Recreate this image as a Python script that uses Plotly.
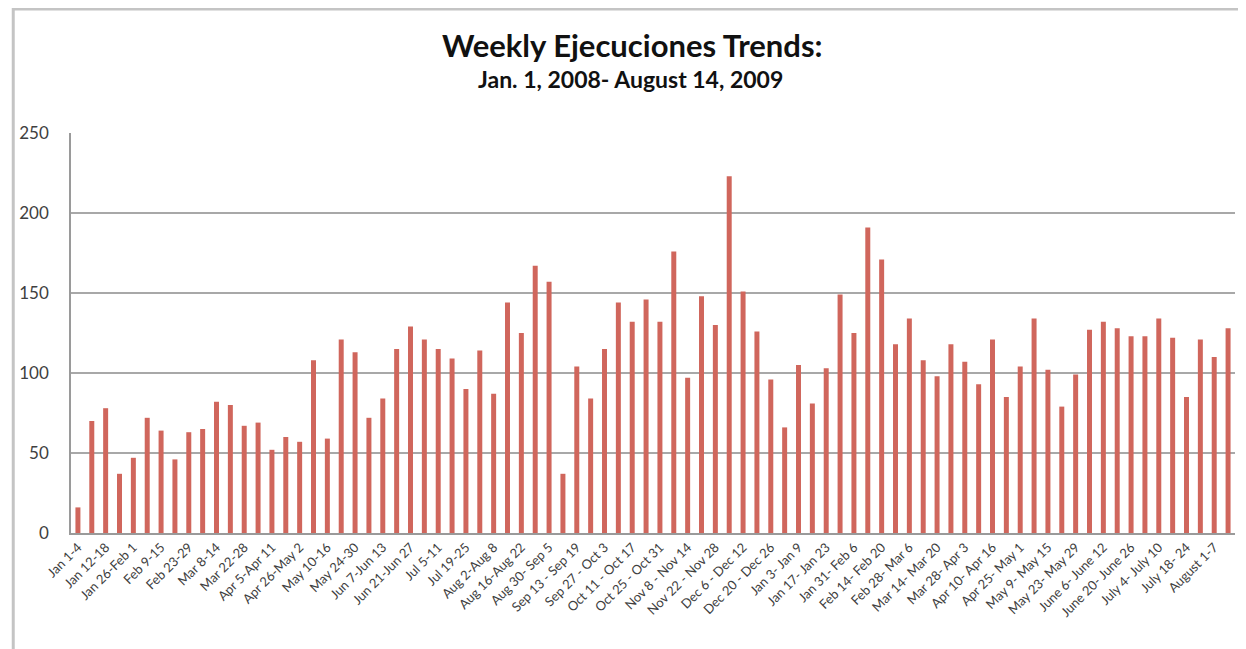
import plotly.graph_objects as go

weeks = [
    "Jan 1-4", "Jan 5-11", "Jan 12-18", "Jan 19-25", "Jan 26-Feb 1", "Feb 2-8",
    "Feb 9-15", "Feb 16-22", "Feb 23-29", "Mar 1-7", "Mar 8-14", "Mar 15-21",
    "Mar 22-28", "Mar 29-Apr 4", "Apr 5-Apr 11", "Apr 12-25", "Apr 26-May 2", "May 3-9",
    "May 10-16", "May 17-23", "May 24-30", "May 31-Jun 6", "Jun 7-Jun 13", "Jun 14-Jun 20",
    "Jun 21-Jun 27", "Jun 28-Jul 4", "Jul 5-11", "Jul 12-18", "Jul 19-25", "Jul 26-Aug 1",
    "Aug 2-Aug 8", "Aug 9-Aug 15", "Aug 16-Aug 22", "Aug 23-Aug 29", "Aug 30- Sep 5", "Sep 6 - Sep 12",
    "Sep 13 - Sep 19", "Sep 20 - Sep 26", "Sep 27 - Oct 3", "Oct 4 - Oct 10", "Oct 11 - Oct 17", "Oct 18 - Oct 24",
    "Oct 25 - Oct 31", "Nov 1 - Nov 7", "Nov 8 - Nov 14", "Nov 15 - Nov 21", "Nov 22 - Nov 28", "Nov 29 - Dec 5",
    "Dec 6 - Dec 12", "Dec 13 - Dec 19", "Dec 20 - Dec 26", "Dec 27 - Jan 2", "Jan 3- Jan 9", "Jan 10- Jan 16",
    "Jan 17- Jan 23", "Jan 24- Jan 30", "Jan 31- Feb 6", "Feb 7- Feb 13", "Feb 14- Feb 20", "Feb 21- Feb 27",
    "Feb 28- Mar 6", "Mar 7- Mar 13", "Mar 14- Mar 20", "Mar 21- Mar 27", "Mar 28- Apr 3", "Apr 4- Apr 9",
    "Apr 10- Apr 16", "Apr 17- Apr 24", "Apr 25- May 1", "May 2- May 8", "May 9- May 15", "May 16- May 22",
    "May 23- May 29", "May 30- June 5", "June 6- June 12", "June 13- June 19", "June 20- June 26", "June 27- July 3",
    "July 4- July 10", "July 11- 17", "July 18- 24", "July 25- 31", "August 1-7", "August 8-14",
]

ejecuciones = [
    16, 70, 78, 37, 47, 72, 64, 46, 63, 65, 82, 80,
    67, 69, 52, 60, 57, 108, 59, 121, 113, 72, 84, 115,
    129, 121, 115, 109, 90, 114, 87, 144, 125, 167, 157, 37,
    104, 84, 115, 144, 132, 146, 132, 176, 97, 148, 130, 223,
    151, 126, 96, 66, 105, 81, 103, 149, 125, 191, 171, 118,
    134, 108, 98, 118, 107, 93, 121, 85, 104, 134, 102, 79,
    99, 127, 132, 128, 123, 123, 134, 122, 85, 121, 110, 128,
]

shown_labels = weeks[::2]
y_ticks = [0, 50, 100, 150, 200, 250]

# page body has an 8px margin; figure sized so plot area lands where the reference has it
W, H = 1238, 641
L, T, R, B = 58, 125, 11, 116
PW, PH = W - L - R, H - T - B


def px(x):
    return (x - L) / PW


def py(y):
    return (H - B - y) / PH


fig = go.Figure(
    go.Bar(
        x=weeks,
        y=ejecuciones,
        marker=dict(color="#d0665c", line=dict(width=0)),
    )
)

fig.update_layout(
    width=W,
    height=H,
    margin=dict(l=L, r=R, t=T, b=B),
    paper_bgcolor="white",
    plot_bgcolor="white",
    bargap=0.64,
    showlegend=False,
    font=dict(family="Lato, Open Sans, sans-serif", color="#404040"),
    annotations=[
        dict(text="<b>Weekly Ejecuciones Trends:</b>", x=px(622), y=py(37), xref="paper", yref="paper",
             yanchor="middle", showarrow=False, font=dict(size=31, color="#111111", family="Lato")),
        dict(text="<b>Jan. 1, 2008- August 14, 2009</b>", x=px(620), y=py(71), xref="paper", yref="paper",
             yanchor="middle", showarrow=False, font=dict(size=23, color="#111111", family="Lato")),
    ],
    shapes=[
        dict(type="rect", xref="paper", yref="paper",
             x0=px(0), x1=px(1260), y0=py(660), y1=py(1),
             line=dict(color="#c4c4c4", width=3), fillcolor="rgba(0,0,0,0)", layer="below"),
    ],
)

fig.update_xaxes(
    type="category",
    tickmode="array",
    tickvals=shown_labels,
    ticktext=shown_labels,
    tickangle=-45,
    tickfont=dict(size=13, color="#404040"),
    showgrid=False,
    showline=True,
    linecolor="#9a9a9a",
    linewidth=1.5,
    ticks="",
    range=[-0.5, len(weeks) - 0.5],
)

fig.update_yaxes(
    range=[0, 250],
    tickvals=y_ticks,
    tickfont=dict(size=17, color="#404040"),
    showgrid=True,
    gridcolor="#a8a8a8",
    gridwidth=1.5,
    showline=True,
    linecolor="#9a9a9a",
    linewidth=1.5,
    zeroline=False,
    ticks="",
    ticklabelstandoff=17,
)

fig.write_html("out.html")
